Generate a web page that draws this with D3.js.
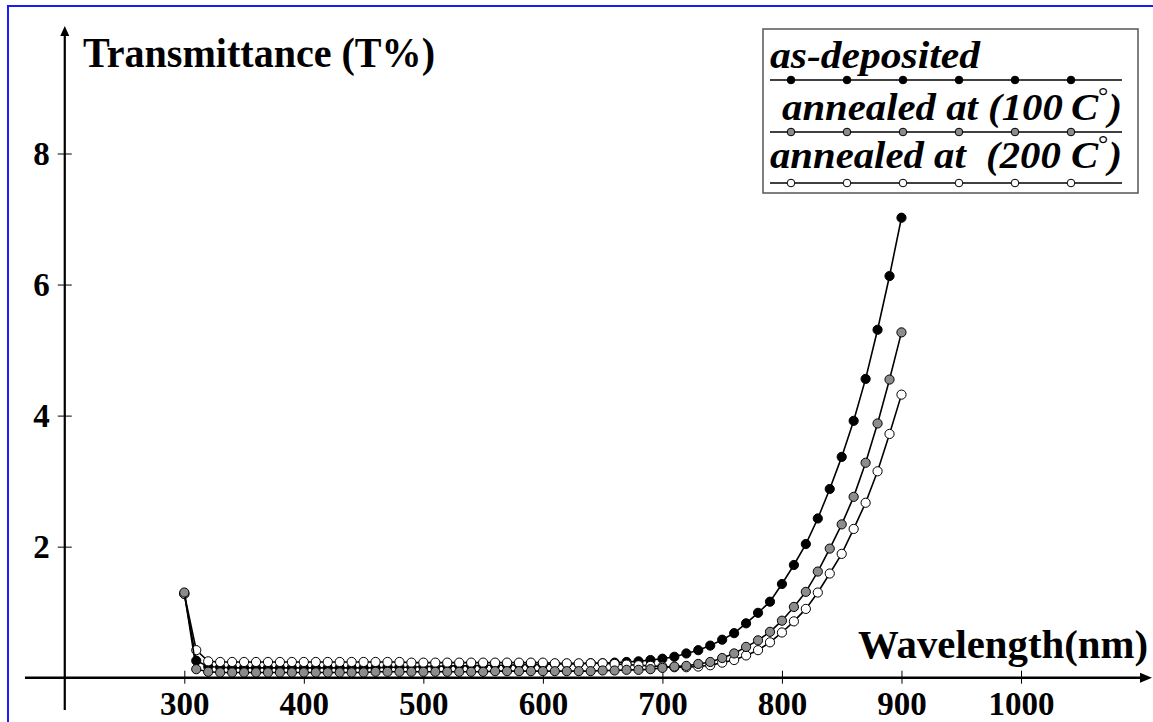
<!DOCTYPE html>
<html><head><meta charset="utf-8">
<script src="https://cdn.jsdelivr.net/npm/d3@7/dist/d3.min.js"></script>
<style>html,body{margin:0;padding:0;background:#fff;overflow:hidden}</style>
</head><body>
<svg id="c" width="1153" height="722"></svg>
<script>
// ---- DATA ----
const wl = d3.range(300, 901, 10); // 300..900 nm, 61 points
const asDeposited = [
  1.28,0.26,0.17,0.16,0.15,0.15,0.15,0.15,0.15,0.15, // 300-390
  0.15,0.15,0.15,0.15,0.15,0.15,0.15,0.16,0.16,0.16, // 400-490
  0.17,0.17,0.18,0.18,0.18,0.19,0.19,0.19,0.20,0.20, // 500-590
  0.20,0.21,0.21,0.21,0.22,0.22,0.23,0.24,0.25,0.27, // 600-690
  0.29,0.32,0.37,0.42,0.49,0.58,0.68,0.83,0.99,1.16, // 700-790
  1.43,1.72,2.04,2.43,2.88,3.37,3.92,4.56,5.31,6.13, // 800-890
  7.02];                                              // 900
const annealed100 = [
  1.30,0.13,0.09,0.08,0.08,0.08,0.08,0.08,0.08,0.08,
  0.08,0.08,0.08,0.08,0.08,0.08,0.09,0.09,0.09,0.09,
  0.09,0.09,0.09,0.09,0.09,0.09,0.10,0.10,0.10,0.10,
  0.10,0.10,0.10,0.10,0.10,0.11,0.11,0.12,0.12,0.13,
  0.15,0.17,0.18,0.21,0.24,0.30,0.37,0.47,0.57,0.70,
  0.87,1.08,1.31,1.62,1.97,2.34,2.76,3.28,3.88,4.55,
  5.27];
const annealed200 = [
  1.28,0.42,0.25,0.24,0.24,0.24,0.24,0.24,0.24,0.24,
  0.24,0.24,0.24,0.24,0.24,0.24,0.24,0.24,0.24,0.23,
  0.23,0.23,0.23,0.23,0.23,0.23,0.23,0.23,0.23,0.23,
  0.23,0.22,0.22,0.22,0.22,0.22,0.21,0.20,0.19,0.18,
  0.17,0.16,0.16,0.17,0.19,0.23,0.27,0.34,0.42,0.54,
  0.69,0.86,1.05,1.30,1.59,1.89,2.27,2.67,3.15,3.72,
  4.32];
const xTickValues = [300,400,500,600,700,800,900,1000];
const yTickValues = [2,4,6,8];
const legendLabels = ["as-deposited","annealed at (100\u2009C","annealed at  (200 C"];

// ---- DRAW ----
const svg = d3.select("#c");
const x = d3.scaleLinear().domain([300,1000]).range([184.3,1021]);
const y = d3.scaleLinear().domain([0,8]).range([677.7,153.5]);
const serif = "'Liberation Serif','Times New Roman',serif";

// blue frame
svg.append("rect").attr("x",8).attr("y",6).attr("width",1300).attr("height",900)
  .attr("fill","none").attr("stroke","#1a1aff").attr("stroke-width",2);

// axes lines
const y0 = y(0), xAxisX = x(200);
svg.append("line").attr("x1",25).attr("x2",1143).attr("y1",y0).attr("y2",y0)
  .attr("stroke","#000").attr("stroke-width",2.5);
svg.append("path").attr("d",`M1152,${y0} L1140,${y0-5} L1140,${y0+5} Z`).attr("fill","#000");
svg.append("line").attr("x1",xAxisX).attr("x2",xAxisX).attr("y1",710).attr("y2",32)
  .attr("stroke","#000").attr("stroke-width",2.2);
svg.append("path").attr("d",`M${xAxisX},26 L${xAxisX-4.5},36 L${xAxisX+4.5},36 Z`).attr("fill","#000");

// x axis ticks via d3.axis
const gx = svg.append("g").attr("transform",`translate(0,${y0})`)
  .call(d3.axisBottom(x).tickValues(xTickValues).tickFormat(d3.format("d")).tickSize(6).tickPadding(8));
gx.select(".domain").remove();
gx.selectAll(".tick line").attr("y1",-7).attr("y2",6).attr("stroke","#000").attr("stroke-width",1);
gx.selectAll(".tick text").attr("font-family",serif).attr("font-weight","bold")
  .attr("font-size",33).attr("fill","#000").attr("dy","0.71em");

const gy = svg.append("g").attr("transform",`translate(${xAxisX},0)`)
  .call(d3.axisLeft(y).tickValues(yTickValues).tickSize(7).tickPadding(8));
gy.select(".domain").remove();
gy.selectAll(".tick line").attr("x1",-7).attr("x2",7).attr("stroke","#000").attr("stroke-width",1);
gy.selectAll(".tick text").attr("font-family",serif).attr("font-weight","bold")
  .attr("font-size",33).attr("fill","#000");

// axis titles
svg.append("text").attr("x",83).attr("y",67).attr("font-family",serif).attr("font-weight","bold")
  .attr("font-size",42).attr("textLength",352).attr("lengthAdjust","spacingAndGlyphs")
  .text("Transmittance (T%)");
svg.append("text").attr("x",858).attr("y",658).attr("font-family",serif).attr("font-weight","bold")
  .attr("font-size",40).attr("textLength",290).attr("lengthAdjust","spacingAndGlyphs")
  .text("Wavelength(nm)");

// series
const series = [
  {vals: asDeposited, fill:"#000"},
  {vals: annealed200, fill:"#fff"},
  {vals: annealed100, fill:"#8c8c8c"}
];
const line = d3.line().x(d=>x(d[0])).y(d=>y(d[1]));
series.forEach(s=>{
  const pts = wl.map((w,i)=>[w,s.vals[i]]);
  svg.append("path").datum(pts).attr("d",line).attr("fill","none")
    .attr("stroke","#000").attr("stroke-width",1.6);
  svg.append("g").selectAll("circle").data(pts).join("circle")
    .attr("cx",d=>x(d[0])).attr("cy",d=>y(d[1])).attr("r",4.6)
    .attr("fill",s.fill).attr("stroke","#000").attr("stroke-width",1);
});

// legend
svg.append("rect").attr("x",763).attr("y",29).attr("width",375).attr("height",164)
  .attr("fill","#fff").attr("stroke","#555").attr("stroke-width",1.5);
const legFills = ["#000","#8c8c8c","#fff"];
const legText = [
  {x:770,y:68,len:210},
  {x:782,y:120,len:340},
  {x:770,y:168,len:352}
];
const legLineY = [80,132,183];
const lx = d3.scaleLinear().domain([0,5]).range([791,1071]);
legendLabels.forEach((lab,i)=>{
  const t = svg.append("text").attr("x",legText[i].x).attr("y",legText[i].y)
    .attr("font-family",serif).attr("font-weight","bold").attr("font-style","italic")
    .attr("font-size",38).attr("style","white-space:pre")
    .attr("textLength",legText[i].len).attr("lengthAdjust","spacingAndGlyphs");
  if(i===0){
    t.text(lab);
  } else {
    t.append("tspan").text(lab);
    t.append("tspan").attr("font-size",24).attr("dy",-16).attr("font-style","normal").attr("font-weight","normal").text("\u00B0");
    t.append("tspan").attr("dy",16).attr("font-size",38).text(")");
  }
  svg.append("line").attr("x1",770).attr("x2",1122).attr("y1",legLineY[i]).attr("y2",legLineY[i])
    .attr("stroke","#000").attr("stroke-width",1.6);
  svg.append("g").selectAll("circle").data(d3.range(6)).join("circle")
    .attr("cx",d=>lx(d)).attr("cy",legLineY[i]).attr("r",3.8)
    .attr("fill",legFills[i]).attr("stroke","#000").attr("stroke-width",1);
});
</script>
</body></html>
